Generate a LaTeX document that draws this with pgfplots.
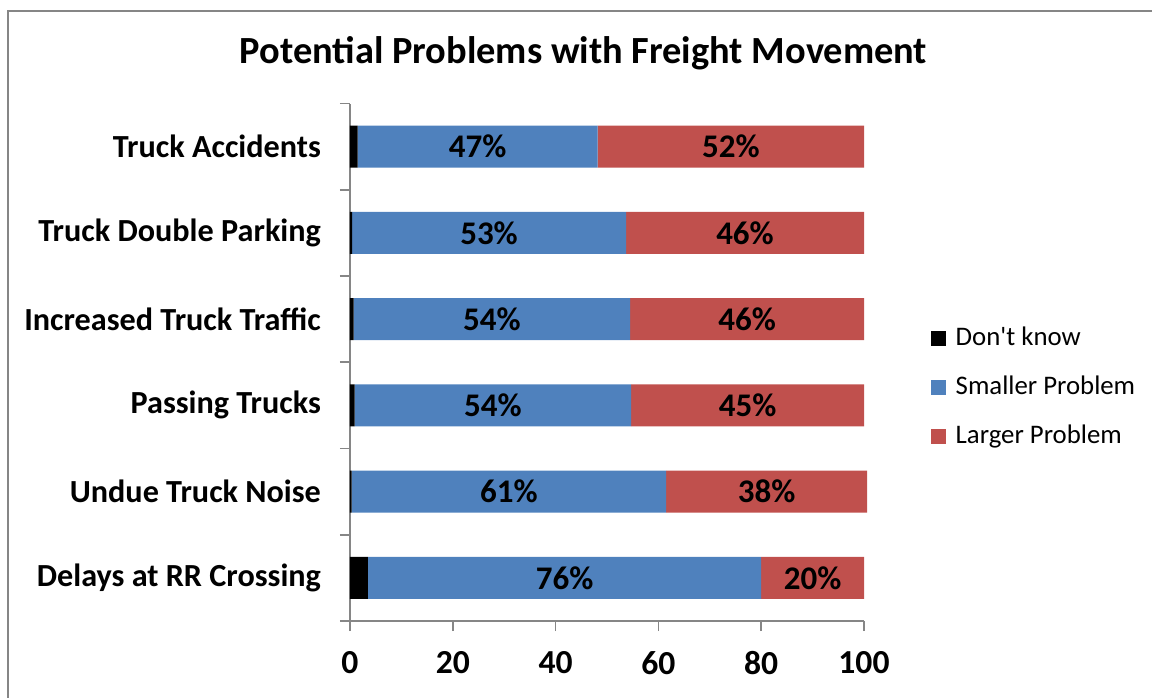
\documentclass[border=0pt]{standalone}
\usepackage{pgfplots}
\pgfplotsset{compat=1.18}
\usepackage{pgfplotstable}
\usepackage{fontspec}
\setmainfont{Carlito}
\newfontfamily\plainfont{Carlito}
\definecolor{smc}{HTML}{4F81BD}
\definecolor{lgc}{HTML}{C0504D}
\definecolor{axc}{HTML}{868686}
\pgfplotstableread{
y dk small large lsmall llarge
0 3.5 76.5 20.0 76 20
1 0.3 61.2 39.1 61 38
2 0.9 53.8 45.3 54 45
3 0.7 53.8 45.5 54 46
4 0.4 53.3 46.3 53 46
5 1.5 46.7 51.8 47 52
}\data
\begin{document}
\begin{tikzpicture}
\useasboundingbox (0,0) rectangle (576pt,348.5pt);
\draw[color=axc, line width=0.75pt] (4pt,-2pt) -- (4pt,343pt) -- (580pt,343pt);
\node[font=\bfseries\fontsize{19.2}{23}\selectfont] at (291.75pt,322pt) {Potential Problems with Freight Movement};
\begin{axis}[
  at={(175pt,38pt)}, anchor=south west,
  width=257pt, height=258.75pt, scale only axis,
  xbar stacked, bar width=21pt,
  xmin=0, xmax=100, ymin=-0.5, ymax=5.5,
  enlargelimits=false,
  axis x line*=bottom, axis y line*=left,
  axis line style={axc, line width=0.9pt},
  every tick/.style={axc, line width=0.9pt},
  tick align=outside,
  major tick length=5pt,
  xtick={0,20,...,100},
  /pgf/number format/assume math mode=true,
  ytick={-0.5,0.5,1.5,2.5,3.5,4.5,5.5},
  yticklabels={,,,,,,},
  extra y ticks={0,1,2,3,4,5},
  extra y tick labels={Delays at RR Crossing, Undue Truck Noise, Passing Trucks, Increased Truck Traffic, Truck Double Parking, Truck Accidents},
  extra y tick style={major tick length=0pt, tick style={draw=none}},
  xticklabel style={font=\bfseries\fontsize{16.8}{20}\selectfont, yshift=-6.5pt},
  yticklabel style={font=\bfseries\fontsize{16.1}{19}\selectfont, xshift=-11pt},
  legend style={draw=none, fill=none, at={(1.129,0.452)}, anchor=west,
    font=\fontsize{13.4}{16}\selectfont, row sep=13.7pt, inner sep=0pt,
    nodes={inner sep=0pt},
    /tikz/every odd column/.append style={column sep=5pt}},
  legend image code/.code={\path[#1, draw=none] (0pt,-3.75pt) rectangle (7.5pt,3.75pt);},
  legend cell align=left,
  clip=false,
]
\addplot[fill=black, draw=none] table[x=dk, y=y] {\data};
\addlegendentry{{\plainfont Don't know}}
\addplot[fill=smc, draw=none,
  point meta=explicit symbolic,
  nodes near coords={\pgfplotspointmeta\%},
  every node near coord/.append style={anchor=center, black, font=\bfseries\fontsize{16.5}{20}\selectfont},
] table[x=small, y=y, meta=lsmall] {\data};
\addlegendentry{Smaller Problem}
\addplot[fill=lgc, draw=none,
  point meta=explicit symbolic,
  nodes near coords={\pgfplotspointmeta\%},
  every node near coord/.append style={anchor=center, black, font=\bfseries\fontsize{16.5}{20}\selectfont},
] table[x=large, y=y, meta=llarge] {\data};
\addlegendentry{Larger Problem}
\end{axis}
\end{tikzpicture}
\end{document}
